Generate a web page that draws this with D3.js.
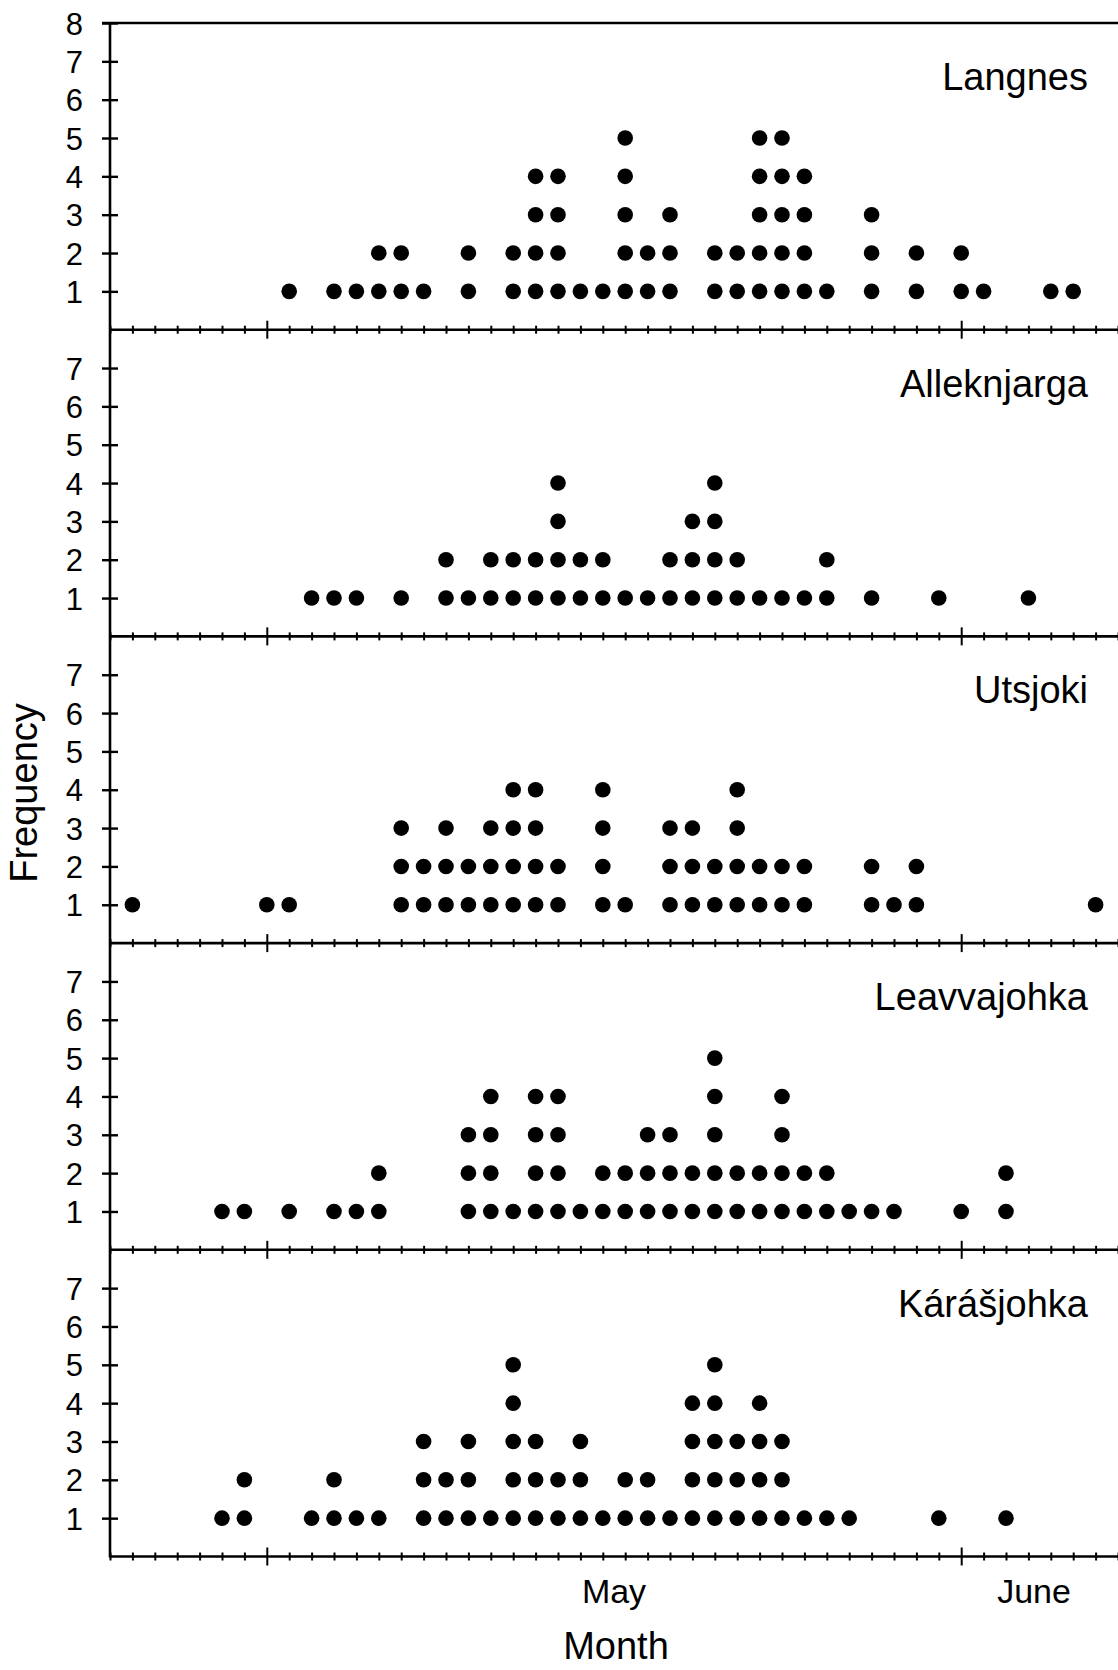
<!DOCTYPE html>
<html>
<head>
<meta charset="utf-8">
<script src="https://cdn.jsdelivr.net/npm/d3@7"></script>
<style>
  body { margin: 0; background: #fff; }
  svg { font-family: 'Liberation Sans', Arial, sans-serif; }
</style>
</head>
<body>
<div id="chart"></div>
<script>
// one count per day, 24 April .. 8 June
const firstDay = new Date(2019, 3, 24);
const lastDay = new Date(2019, 5, 8);

const siteNames = ['Langnes', 'Alleknjarga', 'Utsjoki', 'Leavvajohka', 'Kárášjohka'];

const langnes = [0,0,0,0,0,0,0,0,1,0, 1,1,2,2,1,0,2,0,2,4, 4,1,1,5,2,3,0,2,2,5, 5,4,1,0,3,0,2,0,2,1, 0,0,1,1,0,0];
const alleknjarga = [0,0,0,0,0,0,0,0,0,1, 1,1,0,1,0,2,1,2,2,2, 4,2,2,1,1,2,3,4,2,1, 1,1,2,0,1,0,0,1,0,0, 0,1,0,0,0,0];
const utsjoki = [0,1,0,0,0,0,0,1,1,0, 0,0,0,3,2,3,2,3,4,4, 2,0,4,1,0,3,3,2,4,2, 2,2,0,0,2,1,2,0,0,0, 0,0,0,0,1,0];
const leavvajohka = [0,0,0,0,0,1,1,0,1,0, 1,1,2,0,0,0,3,4,1,4, 4,1,2,2,3,3,2,5,2,2, 4,2,2,1,1,1,0,0,1,0, 2,0,0,0,0,0];
const karasjohka = [0,0,0,0,0,1,2,0,0,1, 2,1,1,0,3,2,3,1,5,3, 2,3,1,2,2,1,4,5,3,4, 3,1,1,1,0,0,0,1,0,0, 1,0,0,0,0,0];

const siteCounts = [langnes, alleknjarga, utsjoki, leavvajohka, karasjohka];

const monthLabels = ['May', 'June'];
const monthStarts = [new Date(2019, 4, 1), new Date(2019, 5, 1)];
const monthEnds = [new Date(2019, 5, 1), new Date(2019, 5, 7, 12)];

const width = 1118, height = 1670;
const plotLeft = 110, plotRight = 1118, plotTop = 23, panelHeight = 306.7;
const dotRadius = 7.8;
const lineWidth = 2.6;

const svg = d3.select('#chart')
  .append('svg')
  .attr('width', width)
  .attr('height', height);

const x = d3.scaleTime()
  .domain([firstDay, lastDay])
  .range([plotLeft, plotRight]);

const days = d3.timeDay.range(firstDay, d3.timeDay.offset(lastDay, 1));

const isMonthStart = (d) => d.getDate() === 1;

siteNames.forEach((name, i) => {
  const y0 = plotTop + i * panelHeight;
  const y = d3.scaleLinear()
    .domain([0, 8])
    .range([y0 + panelHeight, y0]);

  const g = svg.append('g').attr('class', 'panel');

  // x axis with a tick at every day, taller ticks at month starts
  const xAxis = d3.axisBottom(x)
    .ticks(d3.timeDay.every(1))
    .tickFormat('')
    .tickSizeOuter(0);

  const ax = g.append('g')
    .attr('transform', `translate(0,${y(0)})`)
    .call(xAxis);
  ax.select('.domain')
    .attr('d', `M${plotLeft},0H${plotRight}`)
    .attr('stroke', '#000')
    .attr('stroke-width', lineWidth);
  ax.selectAll('.tick line')
    .attr('stroke', '#000')
    .attr('stroke-width', 2)
    .attr('y1', (d) => isMonthStart(d) ? -9 : -4)
    .attr('y2', (d) => isMonthStart(d) ? 9 : 4);

  // y ticks, crossing the axis
  const yTicks = i === 0 ? d3.range(1, 9) : d3.range(1, 8);
  const yAxis = d3.axisLeft(y)
    .tickValues(yTicks)
    .tickSize(0)
    .tickPadding(27)
    .tickFormat(d3.format('d'));

  const ay = g.append('g')
    .attr('transform', `translate(${plotLeft},0)`)
    .call(yAxis);
  ay.select('.domain').remove();
  ay.selectAll('.tick line')
    .attr('x1', -8)
    .attr('x2', 8)
    .attr('stroke', '#000')
    .attr('stroke-width', 2.4);
  ay.selectAll('.tick text')
    .attr('fill', '#000')
    .style('font-size', '31px')
    .attr('dy', '0.36em');

  // stacked dots
  const dots = [];
  siteCounts[i].forEach((count, k) => {
    for (let n = 1; n <= count; n += 1) {
      dots.push({date: days[k], level: n});
    }
  });

  g.append('g')
    .selectAll('circle')
    .data(dots)
    .enter().append('circle')
    .attr('cx', (d) => x(d.date))
    .attr('cy', (d) => y(d.level))
    .attr('r', dotRadius)
    .attr('fill', '#000');

  g.append('text')
    .attr('x', 1088)
    .attr('y', y0 + 67)
    .attr('text-anchor', 'end')
    .style('font-size', '38px')
    .text(name);
});

// top border of the first panel
svg.append('line')
  .attr('x1', plotLeft - 8)
  .attr('x2', plotRight)
  .attr('y1', plotTop)
  .attr('y2', plotTop)
  .attr('stroke', '#000')
  .attr('stroke-width', lineWidth);

// shared y axis line
svg.append('line')
  .attr('x1', plotLeft)
  .attr('x2', plotLeft)
  .attr('y1', plotTop)
  .attr('y2', plotTop + 5 * panelHeight + 1)
  .attr('stroke', '#000')
  .attr('stroke-width', lineWidth);

// month names, centred on the visible part of each month
svg.append('g')
  .selectAll('text')
  .data(monthLabels)
  .enter().append('text')
  .attr('x', (d, k) => (x(monthStarts[k]) + x(monthEnds[k])) / 2)
  .attr('y', 1603)
  .attr('text-anchor', 'middle')
  .style('font-size', '34px')
  .text((d) => d);

svg.append('text')
  .attr('x', 616)
  .attr('y', 1659)
  .attr('text-anchor', 'middle')
  .style('font-size', '38px')
  .text('Month');

svg.append('text')
  .attr('transform', 'translate(37,793) rotate(-90)')
  .attr('text-anchor', 'middle')
  .style('font-size', '38px')
  .text('Frequency');
</script>
</body>
</html>
